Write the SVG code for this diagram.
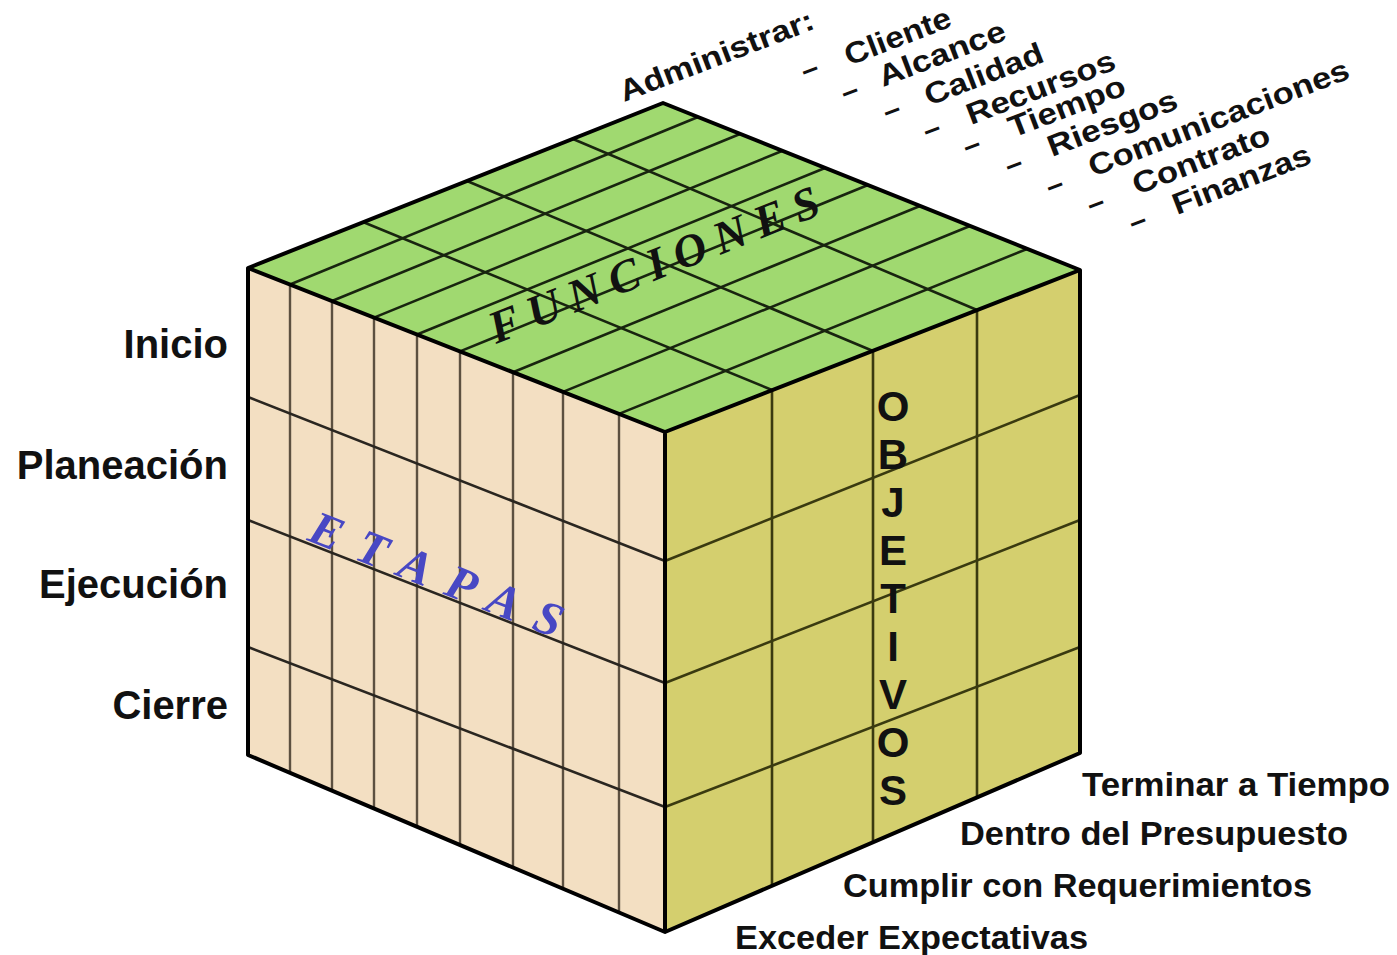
<svg xmlns="http://www.w3.org/2000/svg" width="1397" height="955" viewBox="0 0 1397 955">
<style>
.edge{fill:none;stroke:#000;stroke-width:4;stroke-linejoin:round}
.tl{stroke:#18240f;stroke-width:2.6;fill:none}
.lv{stroke:#5c5040;stroke-width:2.4;fill:none}
.lh{stroke:#2a2620;stroke-width:2.6;fill:none}
.rl{stroke:#3a3a10;stroke-width:2.6;fill:none}
.stage{font-family:"Liberation Sans",Arial,sans-serif;font-weight:bold;font-size:40px;fill:#111;text-anchor:end}
.goal{font-family:"Liberation Sans",Arial,sans-serif;font-weight:bold;font-size:34px;fill:#111}
.fn{font-family:"Liberation Sans",Arial,sans-serif;font-weight:bold;font-size:30px;fill:#111}
.dash{font-family:"Liberation Sans",Arial,sans-serif;font-weight:bold;font-size:30px;fill:#111;text-anchor:middle}
.obj{font-family:"Liberation Sans",Arial,sans-serif;font-weight:bold;font-size:42px;fill:#111;text-anchor:middle}
.serif{font-family:"Liberation Serif","Times New Roman",serif;font-weight:bold;font-style:italic}
</style>
<rect width="1397" height="955" fill="#fff"/>

<g id="top-face">
<polygon points="248,268 663,103 1080,270 665,432" fill="#a0d970"/>
<path class="tl" d="M290,284.5 L698,117 M332,301 L740,134 M374,317.6 L782,151 M417,334.5 L825,168 M460,351.4 L868,185 M513,372.2 L920,206 M563,391.9 L970,226 M619,413.9 L1027,249"/>
<path class="tl" d="M363,222 L772,390 M467,181 L873,351 M573,139 L977,310"/>
<text class="serif" fill="#111" font-size="46" transform="translate(496,344) rotate(-21.7)" textLength="352" lengthAdjust="spacing">FUNCIONES</text>
</g>

<g id="left-face">
<polygon points="248,268 665,432 665,932 248,755" fill="#f3dfc2"/>
<path class="lv" d="M290,284.5 L290,773 M332,301 L332,791 M374,317.6 L374,809 M417,334.5 L417,827 M460,351.4 L460,845.5 M513,372.2 L513,868 M563,391.9 L563,889.5 M619,413.9 L619,913.4"/>
<path class="lh" d="M248,397 L665,561 M248,520 L665,683 M248,647 L665,807"/>
<text class="serif" fill="#4848c4" font-size="48" transform="translate(306,540) rotate(21.5)" textLength="268" lengthAdjust="spacing">ETAPAS</text>
</g>

<g id="right-face">
<polygon points="665,432 1080,270 1080,753 665,932" fill="#d4cf6e"/>
<path class="rl" d="M772,390 L772,886 M873,351 L873,842 M977,310 L977,797"/>
<path class="rl" d="M665,561 L1080,395 M665,683 L1080,520 M665,807 L1080,647"/>
<g id="objetivos">
<text class="obj" x="893" y="421">O</text>
<text class="obj" x="893" y="469">B</text>
<text class="obj" x="893" y="517">J</text>
<text class="obj" x="893" y="565">E</text>
<text class="obj" x="893" y="613">T</text>
<text class="obj" x="893" y="661">I</text>
<text class="obj" x="893" y="709">V</text>
<text class="obj" x="893" y="757">O</text>
<text class="obj" x="893" y="805">S</text>
</g>
</g>

<g id="cube-edges">
<polygon class="edge" points="248,268 663,103 1080,270 1080,753 665,932 248,755"/>
<path class="edge" d="M248,268 L665,432 L1080,270 M665,432 L665,932"/>
</g>

<g id="stage-labels">
<text class="stage" x="228" y="358">Inicio</text>
<text class="stage" x="228" y="479">Planeación</text>
<text class="stage" x="228" y="598">Ejecución</text>
<text class="stage" x="228" y="719">Cierre</text>
</g>

<g id="goal-labels">
<text class="goal" x="1082" y="796" textLength="308" lengthAdjust="spacingAndGlyphs">Terminar a Tiempo</text>
<text class="goal" x="960" y="845" textLength="388" lengthAdjust="spacingAndGlyphs">Dentro del Presupuesto</text>
<text class="goal" x="843" y="897" textLength="469" lengthAdjust="spacingAndGlyphs">Cumplir con Requerimientos</text>
<text class="goal" x="735" y="949" textLength="353" lengthAdjust="spacingAndGlyphs">Exceder Expectativas</text>
</g>

<g id="function-labels">
<text class="fn" transform="translate(624,102) rotate(-21)" textLength="206" lengthAdjust="spacingAndGlyphs">Administrar:</text>
<text class="dash" transform="translate(813,78) rotate(-21)">–</text>
<text class="fn" transform="translate(849,66) rotate(-21)" textLength="112" lengthAdjust="spacingAndGlyphs">Cliente</text>
<text class="dash" transform="translate(853,100) rotate(-21)">–</text>
<text class="fn" transform="translate(883,87) rotate(-21)" textLength="134" lengthAdjust="spacingAndGlyphs">Alcance</text>
<text class="dash" transform="translate(895,119) rotate(-21)">–</text>
<text class="fn" transform="translate(929,106) rotate(-21)" textLength="125" lengthAdjust="spacingAndGlyphs">Calidad</text>
<text class="dash" transform="translate(935,138) rotate(-21)">–</text>
<text class="fn" transform="translate(971,125) rotate(-21)" textLength="157" lengthAdjust="spacingAndGlyphs">Recursos</text>
<text class="dash" transform="translate(975,154) rotate(-21)">–</text>
<text class="fn" transform="translate(1013,138) rotate(-21)" textLength="123" lengthAdjust="spacingAndGlyphs">Tiempo</text>
<text class="dash" transform="translate(1017,173) rotate(-21)">–</text>
<text class="fn" transform="translate(1052,157) rotate(-21)" textLength="137" lengthAdjust="spacingAndGlyphs">Riesgos</text>
<text class="dash" transform="translate(1058,194) rotate(-21)">–</text>
<text class="fn" transform="translate(1093,177) rotate(-21)" textLength="277" lengthAdjust="spacingAndGlyphs">Comunicaciones</text>
<text class="dash" transform="translate(1099,212) rotate(-21)">–</text>
<text class="fn" transform="translate(1137,195) rotate(-21)" textLength="145" lengthAdjust="spacingAndGlyphs">Contrato</text>
<text class="dash" transform="translate(1141,230) rotate(-21)">–</text>
<text class="fn" transform="translate(1177,215) rotate(-21)" textLength="146" lengthAdjust="spacingAndGlyphs">Finanzas</text>
</g>
</svg>
